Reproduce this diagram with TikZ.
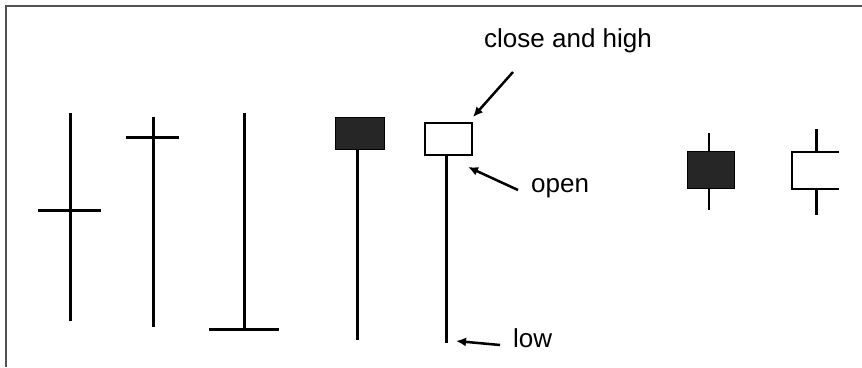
\documentclass[tikz,border=0pt]{standalone}
\usepackage{fontspec}
\setmainfont{Liberation Sans}
\usetikzlibrary{arrows.meta}
\begin{document}
\begin{tikzpicture}[x=1pt,y=-1pt,
  wick/.style={line width=3pt},
  thinwick/.style={line width=1.6pt},
  tick/.style={line width=3pt},
  darkbody/.style={fill=black!85,draw=black,line width=1pt,inner sep=0pt},
  whitebody/.style={fill=white,draw=black,line width=2.5pt,inner sep=0pt},
  lbl/.style={font=\fontsize{26}{30}\selectfont,inner sep=0pt},
  ptr/.style={line width=2.5pt,-{Latex[length=10pt,width=9pt]}},
  framestyle/.style={draw=black!68,line width=2pt}]
\useasboundingbox (0,0) rectangle (862,367);
\draw[framestyle] (6,367) -- (6,6) -- (862,6);

% candle 1
\draw[wick] (70,113) -- (70,321);
\draw[tick] (38,210) -- (101,210);
% candle 2
\draw[wick] (153,117) -- (153,327);
\draw[tick] (126,137) -- (179,137);
% candle 3
\draw[wick] (244,113) -- (244,329);
\draw[tick] (209,329) -- (279,329);
% candle 4
\node[darkbody,minimum width=49pt,minimum height=32pt] (b4) at (359.5,133) {};
\draw[wick] (357,149) -- (357,340);
% candle 5
\node[whitebody,minimum width=47pt,minimum height=32pt] (b5) at (448.5,139) {};
\draw[wick] (446,155) -- (446,343);
% candle 6
\draw[thinwick] (709,133) -- (709,210);
\node[darkbody,minimum width=47pt,minimum height=37pt] (b6) at (710.5,169.5) {};
% candle 7
\draw[wick] (816,129) -- (816,152);
\draw[wick] (816,189) -- (816,215);
\draw[line width=2.5pt] (839,152) -- (792,152) -- (792,189) -- (839,189);

% labels
\node[lbl,anchor=base west] (tclose) at (484,47) {close and high};
\node[lbl,anchor=base west] (topen) at (531,192) {open};
\node[lbl,anchor=base west] (tlow) at (513,347) {low};

\coordinate (sclose) at (513,72);
\coordinate (eclose) at (473,117);
\coordinate (sopen) at (518,190);
\coordinate (eopen) at (468,167);
\coordinate (slow) at (500,345);
\coordinate (elow) at (456,341);
\draw[ptr] (sclose) -- (eclose);
\draw[ptr] (sopen) -- (eopen);
\draw[ptr] (slow) -- (elow);
\end{tikzpicture}
\end{document}
